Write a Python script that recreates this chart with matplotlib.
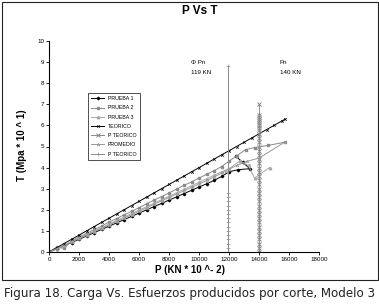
import matplotlib
matplotlib.use("Agg")
import matplotlib.pyplot as plt
from matplotlib.patches import Rectangle

plt.rcParams['font.family'] = ['Liberation Sans', 'DejaVu Sans']

# pruebas, cada 500 hasta 11000 y luego la parte final
x_prueba = [0, 500, 1000, 1500, 2000, 2500, 3000, 3500, 4000, 4500, 5000, 5500,
            6000, 6500, 7000, 7500, 8000, 8500, 9000, 9500, 10000, 10500, 11000]

p1_x = x_prueba + [11500, 12000, 12600, 13400, 12900, 12450]
p1_y = [0, 0.14, 0.3, 0.45, 0.6, 0.76, 0.91, 1.07, 1.22, 1.38, 1.53, 1.69,
        1.84, 2.0, 2.15, 2.3, 2.46, 2.61, 2.77, 2.92, 3.08, 3.23, 3.39,
        3.58, 3.8, 3.9, 3.95, 4.25, 4.55]

p2_x = x_prueba + [11500, 12000, 12500, 13100, 13700, 14600, 15700]
p2_y = [0, 0.22, 0.18, 0.52, 0.72, 0.88, 1.06, 1.22, 1.42, 1.58, 1.76, 1.92,
        2.1, 2.28, 2.46, 2.62, 2.8, 2.98, 3.16, 3.32, 3.5, 3.68, 3.85,
        4.05, 4.3, 4.55, 4.85, 4.95, 5.05, 5.2]

p3_x = x_prueba + [11500, 12000, 12700, 13300, 13700, 14700]
p3_y = [0, 0.15, 0.32, 0.5, 0.66, 0.82, 0.99, 1.15, 1.32, 1.49, 1.65, 1.82,
        1.98, 2.15, 2.31, 2.48, 2.64, 2.81, 2.97, 3.14, 3.3, 3.47, 3.63,
        3.8, 3.95, 4.3, 4.1, 3.5, 4.0]

prom_x = x_prueba + [11800, 12500, 13200, 14000, 15700]
prom_y = [0, 0.16, 0.3, 0.48, 0.64, 0.8, 0.96, 1.12, 1.28, 1.45, 1.6, 1.77,
          1.93, 2.09, 2.26, 2.42, 2.58, 2.74, 2.9, 3.06, 3.22, 3.38, 3.55,
          3.85, 4.1, 4.3, 4.45, 5.2]

teo_x = [0, 500, 1000, 1500, 2000, 2500, 3000, 3500, 4000, 4500, 5000, 5500,
         6000, 6500, 7000, 7500, 8000, 8500, 9000, 9500, 10000, 10500, 11000,
         11500, 12000, 12500, 13000, 13500, 14000, 14500, 15000, 15500, 15750]
teo_y = [0, 0.2, 0.4, 0.6, 0.8, 1.0, 1.2, 1.4, 1.6, 1.8, 2.0, 2.2,
         2.4, 2.6, 2.8, 3.0, 3.2, 3.4, 3.6, 3.8, 4.0, 4.2, 4.4,
         4.6, 4.8, 5.0, 5.2, 5.4, 5.6, 5.8, 6.0, 6.2, 6.3]

# Pn = 140 KN
pn_y = [0, 0.2, 0.4, 0.6, 0.8, 1.0, 1.2, 1.4, 1.6, 1.8, 2.0, 2.2, 2.4, 2.6,
        2.8, 3.0, 3.2, 3.4, 3.6, 3.8, 4.0, 4.2, 4.4, 4.6, 4.8, 5.0, 5.2, 5.4,
        5.6, 5.8, 5.9, 6.0, 6.1, 6.2, 6.3, 6.4, 6.5, 7.0]
pn_x = [14000] * len(pn_y)

# phi Pn = 119 KN
phipn_y = [0, 0.2, 0.4, 0.6, 0.8, 1.0, 1.2, 1.4, 1.6, 1.8, 2.0, 2.2, 2.4,
           2.6, 2.8, 8.8]
phipn_x = [11900] * len(phipn_y)

W, H = 379, 307
fig = plt.figure(figsize=(W / 100, H / 100), dpi=100)
ax = fig.add_axes([49 / W, (H - 252) / H, 270 / W, 211 / H])

lw = 0.7
ms = 1.8
ax.plot(p1_x, p1_y, color='black', lw=lw, marker='D', ms=1.3, label='PRUEBA 1')
ax.plot(p2_x, p2_y, color='#8a8a8a', lw=lw, marker='s', ms=ms, label='PRUEBA 2')
ax.plot(p3_x, p3_y, color='#a8a8a8', lw=lw, marker='^', ms=ms, label='PRUEBA 3')
ax.plot(teo_x, teo_y, color='black', lw=lw, marker='x', ms=ms, mew=0.5, label='TEORICO')
ax.plot(pn_x, pn_y, color='#8a8a8a', lw=lw, marker='x', ms=2.6, mew=0.7, label='P TEORICO')
ax.plot(prom_x, prom_y, color='#999999', lw=lw, marker='^', ms=ms, mfc='none', mew=0.5, label='PROMEDIO')
ax.plot(phipn_x, phipn_y, color='#8a8a8a', lw=lw, marker='+', ms=2.6, mew=0.5, label='P TEORICO')

ax.set_xlim(0, 18000)
ax.set_ylim(0, 10)
ax.set_xticks(range(0, 18001, 2000))
ax.set_yticks(range(0, 11))
for s in ['top', 'right']:
    ax.spines[s].set_visible(False)
for s in ['left', 'bottom']:
    ax.spines[s].set_linewidth(0.8)
ax.tick_params(labelsize=4.5, length=2, width=0.6, pad=1.5)

leg = ax.legend(loc='upper left', bbox_to_anchor=(88 / W, 1 - 93 / H),
                bbox_transform=fig.transFigure, fontsize=3.8, frameon=True,
                fancybox=False, edgecolor='black', handlelength=2.4,
                labelspacing=0.8, borderpad=0.6, borderaxespad=0)
leg.get_frame().set_linewidth(0.6)

fig.text(200 / W, 1 - 11 / H, 'P Vs T', ha='center', va='center',
         fontsize=8.5, fontweight='bold')
fig.text(22 / W, 1 - 145 / H, 'T (Mpa * 10 ^ 1)', ha='center', va='center',
         rotation=90, fontsize=7, fontweight='bold')
fig.text(190 / W, 1 - 270 / H, 'P (KN * 10 ^- 2)', ha='center', va='center',
         fontsize=7, fontweight='bold')
fig.text(191 / W, 1 - 62 / H, 'Φ Pn', fontsize=4.5, va='center')
fig.text(191 / W, 1 - 72 / H, '119 KN', fontsize=4.5, va='center')
fig.text(280 / W, 1 - 62 / H, 'Pn', fontsize=4.5, va='center')
fig.text(280 / W, 1 - 72 / H, '140 KN', fontsize=4.5, va='center')

fig.patches.append(Rectangle((1.5 / W, 1 - 280 / H), 376 / W, 278 / H,
                             transform=fig.transFigure, fill=False,
                             edgecolor='#222222', lw=0.8))
fig.text(0.5, 1 - 293 / H, 'Figura 18. Carga Vs. Esfuerzos producidos por corte, Modelo 3',
         ha='center', va='center', fontsize=8.6, family='DejaVu Sans', color='#222222')

fig.savefig('out.png', dpi=100)
